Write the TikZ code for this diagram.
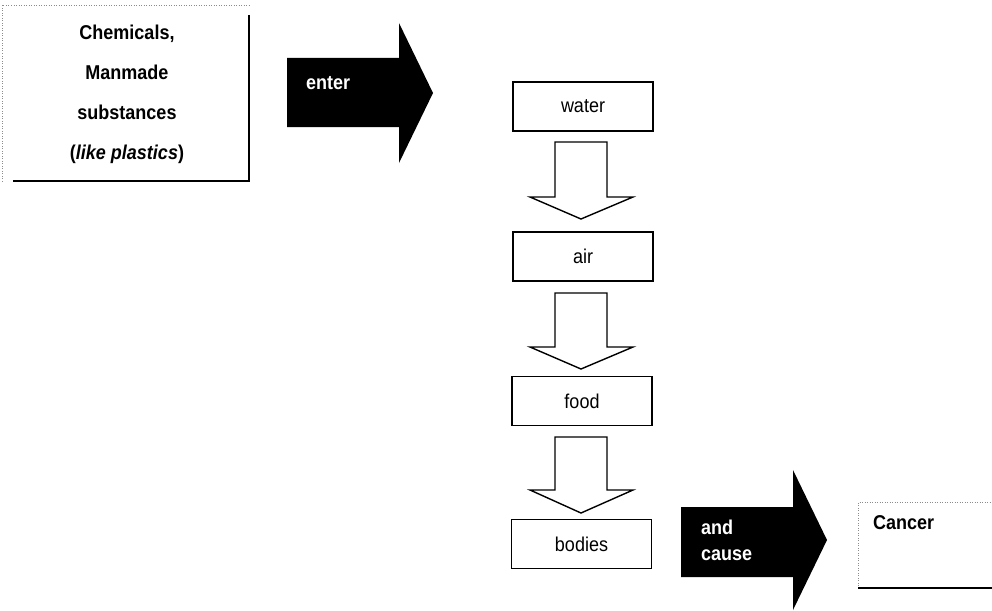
\documentclass[tikz,border=0pt]{standalone}
\usepackage{fontspec}
\setmainfont{Liberation Sans}[FakeStretch=0.9]
\begin{document}
\begin{tikzpicture}[x=1pt,y=-1pt,
  flowbox/.style={draw=black, line width=1.2pt, minimum width=140pt, minimum height=49pt, inner sep=0pt, font=\fontsize{20}{22}\selectfont},
  downblock/.style={draw=black, fill=white, line width=1.4pt, line join=miter},
  bigblock/.style={fill=black, draw=none},
  faint/.style={draw=black!45, line width=0.5pt, dotted},
  heavy/.style={draw=black, line width=2.6pt},
  whitetext/.style={text=white, font=\bfseries\fontsize{20}{26}\selectfont, align=left, anchor=west, inner sep=0pt}]
\useasboundingbox (0,0) rectangle (992,610);

% Chemicals box
\node[align=center, font=\bfseries\fontsize{20}{40}\selectfont, inner sep=0pt] (chem) at (127,94)
  {Chemicals,\\Manmade\\substances\\(\textit{like plastics})};
\coordinate (c1) at (2,5);
\coordinate (c2) at (249,5);
\coordinate (c3) at (249,181);
\coordinate (c4) at (2,181);
\draw[faint] (c4) -- (c1) -- (c2);
\draw[heavy] (249,15) -- (c3) -- (13,181);

% enter arrow
\path[bigblock] (287,58) -- (399,58) -- (399,23) -- (433,93) -- (399,163) -- (399,127) -- (287,127) -- cycle;
\node[whitetext] (enter) at (306,83) {enter};

% flow boxes
\node[flowbox] (water) at (583,106.5) {water};
\node[flowbox] (air) at (583,256.5) {air};
\node[flowbox] (food) at (582,401) {food};
\node[flowbox] (bodies) at (581.5,544) {bodies};

% down block arrows
\draw[downblock] (555,142) -- (607,142) -- (607,197) -- (633,197) -- (581,219) -- (530,197) -- (555,197) -- cycle;
\draw[downblock] (555,293) -- (607,293) -- (607,347) -- (633,347) -- (581,369) -- (530,347) -- (555,347) -- cycle;
\draw[downblock] (555,437) -- (607,437) -- (607,490) -- (633,490) -- (581,513) -- (530,490) -- (555,490) -- cycle;

% and cause arrow
\path[bigblock] (681,507) -- (793,507) -- (793,470) -- (827,540) -- (793,610) -- (793,577) -- (681,577) -- cycle;
\node[whitetext] (andcause) at (701,540) {and\\cause};

% Cancer box
\coordinate (k1) at (858,502);
\coordinate (k2) at (992,502);
\coordinate (k3) at (992,588);
\coordinate (k4) at (858,588);
\draw[faint] (k4) -- (k1) -- (k2);
\draw[heavy] (k4) -- (k3);
\node[font=\bfseries\fontsize{20}{22}\selectfont, anchor=west, inner sep=0pt] (cancer) at (873,523) {Cancer};
\end{tikzpicture}
\end{document}
